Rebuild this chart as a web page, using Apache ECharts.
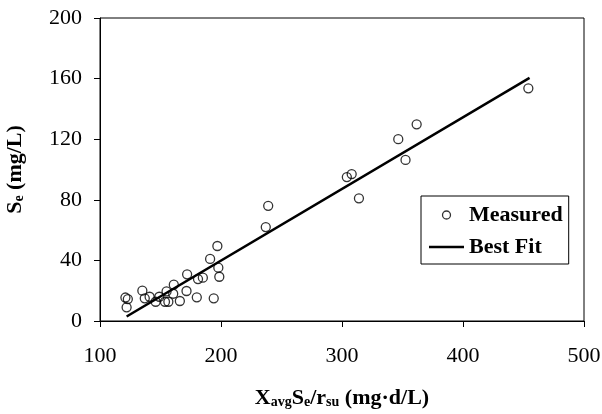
<!DOCTYPE html>
<html>
<head>
<meta charset="utf-8">
<script src="https://cdn.jsdelivr.net/npm/echarts@6/dist/echarts.min.js"></script>
<style>
html,body{margin:0;padding:0;background:#fff;}
#chart{width:602px;height:414px;}
</style>
</head>
<body>
<div id="chart"></div>
<script>
var measuredX = [121, 123, 122, 135, 137, 141, 146, 149, 153.7, 155, 156.5, 161, 160.5, 166, 172, 171.5, 180, 181, 185, 191, 194, 197, 197.8, 198.6, 237, 239, 304, 308, 314, 346.5, 352.5, 361.7, 454];
var measuredY = [15.5, 14.5, 9, 20, 15, 16, 12.7, 16, 12.7, 19.5, 12.7, 24, 18, 13.2, 30.8, 19.8, 15.6, 27.7, 28.6, 41, 15, 49.5, 35.2, 29.2, 62, 76, 95, 97, 81, 120, 106.3, 129.8, 153.6];
var fitX = [122, 455];
var fitY = [3, 160.5];
var xTicks = [100, 200, 300, 400, 500];
var yTicks = [0, 40, 80, 120, 160, 200];

var FONT = 'Liberation Serif';
var chart = echarts.init(document.getElementById('chart'), null, {renderer: 'canvas'});

function zip(a, b) { return a.map(function (v, i) { return [v, b[i]]; }); }

var option = {
  animation: false,
  backgroundColor: '#fff',
  grid: {
    left: 100, right: 18, top: 18, bottom: 93,
    containLabel: false,
    outerBoundsMode: 'none',
    show: true, borderColor: '#000', borderWidth: 1, backgroundColor: 'transparent'
  },
  xAxis: {
    type: 'value',
    min: xTicks[0], max: xTicks[xTicks.length - 1], interval: 100,
    axisLine: {show: true, onZero: false, lineStyle: {color: '#000', width: 1}},
    axisTick: {show: true, inside: false, length: 6, lineStyle: {color: '#000'}},
    splitLine: {show: false},
    axisLabel: {color: '#000', fontFamily: FONT, fontSize: 22, margin: 24},
    name: '{b|X}{s|avg}{b|S}{s|e}{b|/r}{s|su}{b| (mg·d/L)}',
    nameLocation: 'middle',
    nameGap: 62,
    nameTextStyle: {
      rich: {
        b: {fontFamily: FONT, fontWeight: 'bold', fontSize: 22, color: '#000', verticalAlign: 'bottom', lineHeight: 26},
        s: {fontFamily: FONT, fontWeight: 'bold', fontSize: 14, color: '#000', verticalAlign: 'bottom', lineHeight: 20}
      }
    }
  },
  yAxis: {
    type: 'value',
    min: yTicks[0], max: yTicks[yTicks.length - 1], interval: 40,
    axisLine: {show: true, onZero: false, lineStyle: {color: '#000', width: 1}},
    axisTick: {show: true, inside: false, length: 6, lineStyle: {color: '#000'}},
    splitLine: {show: false},
    axisLabel: {color: '#000', fontFamily: FONT, fontSize: 22, margin: 18},
    name: '{b|S}{s|e}{b| (mg/L)}',
    nameLocation: 'middle',
    nameGap: 74,
    nameRotate: 90,
    nameTextStyle: {
      rich: {
        b: {fontFamily: FONT, fontWeight: 'bold', fontSize: 22, color: '#000', verticalAlign: 'bottom', lineHeight: 26},
        s: {fontFamily: FONT, fontWeight: 'bold', fontSize: 14, color: '#000', verticalAlign: 'bottom', lineHeight: 20}
      }
    }
  },
  legend: {
    orient: 'vertical',
    left: 421, top: 196,
    backgroundColor: '#fff',
    borderColor: '#000', borderWidth: 1,
    padding: [8, 6, 6, 8],
    itemGap: 10,
    itemWidth: 35, itemHeight: 8,
    symbolKeepAspect: true,
    textStyle: {fontFamily: FONT, fontWeight: 'bold', fontSize: 22, color: '#000'},
    data: [
      {name: 'Measured', icon: 'circle', itemStyle: {color: 'transparent', borderColor: '#000', borderWidth: 1.3}},
      {name: 'Best Fit', icon: 'path://M0,0 L140,0 L140,10 L0,10 Z', itemStyle: {color: '#000', borderWidth: 0}}
    ]
  },
  series: [
    {
      name: 'Best Fit',
      type: 'line',
      data: zip(fitX, fitY),
      showSymbol: false,
      symbol: 'none',
      lineStyle: {color: '#000', width: 2.5},
      itemStyle: {color: '#000'},
      z: 2
    },
    {
      name: 'Measured',
      type: 'scatter',
      data: zip(measuredX, measuredY),
      symbol: 'circle',
      symbolSize: 9,
      itemStyle: {color: 'transparent', borderColor: '#000', borderWidth: 1.3},
      z: 3
    }
  ]
};
chart.setOption(option);
</script>
</body>
</html>
